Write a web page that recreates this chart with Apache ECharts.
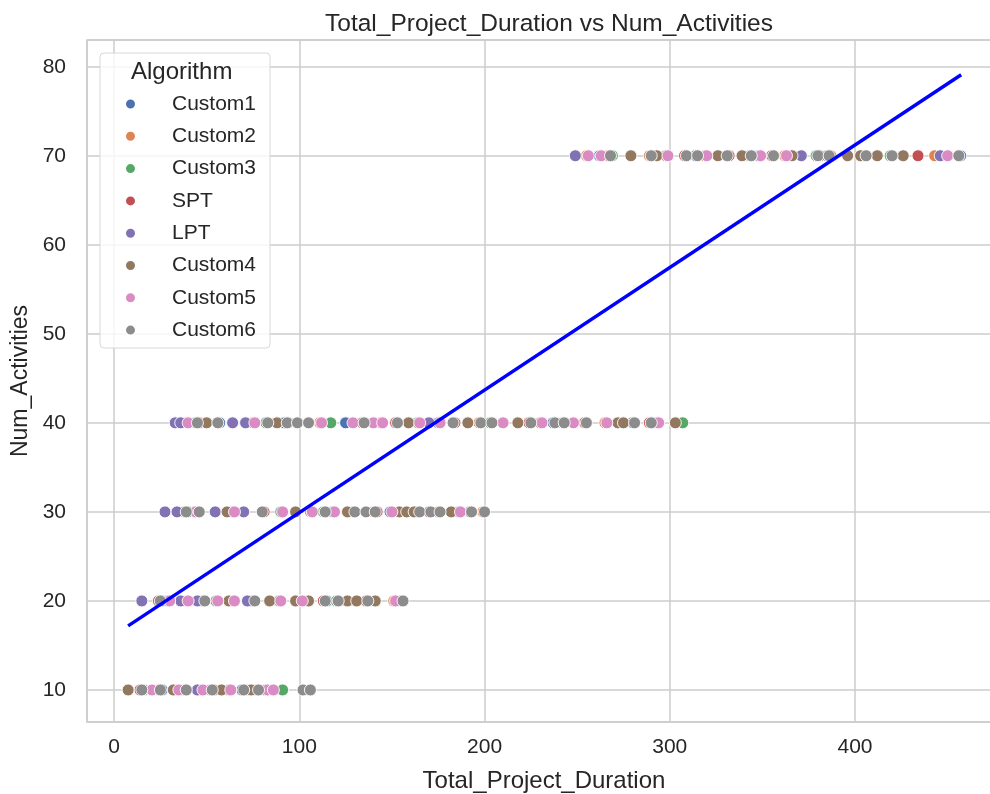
<!DOCTYPE html>
<html>
<head>
<meta charset="utf-8">
<script src="https://cdn.jsdelivr.net/npm/echarts@6/dist/echarts.min.js"></script>
<style>
  html, body { margin: 0; padding: 0; background: #fff; }
  #chart { width: 990px; height: 794px; }
</style>
</head>
<body>
<div id="chart"></div>
<script>
// Total_Project_Duration vs Num_Activities
var dom = document.getElementById("chart");
var myChart = echarts.init(dom);

var algorithms = ['Custom1', 'Custom2', 'Custom3', 'SPT', 'LPT', 'Custom4', 'Custom5', 'Custom6'];
var colors = ['#4C72B0', '#DD8452', '#55A868', '#C44E52', '#8172B3', '#937860', '#DA8BC3', '#8C8C8C'];

// durations per activity level (10, 20, 30, 40, 70), one object per algorithm
var custom1 = {
    10: [26, 47, 69, 82],
    20: [26, 48, 115, 155],
    30: [64, 118, 149, 186],
    40: [57, 92, 125, 175, 237, 280],
    70: [262, 314, 348, 385, 457]
};
var custom2 = {
    10: [24, 34, 77],
    20: [39, 64, 100, 151],
    30: [43, 106, 140, 175, 199],
    40: [39, 75, 111, 144, 197, 230, 265, 293],
    70: [255, 289, 319, 362, 387, 443]
};
var custom3 = {
    10: [16, 52, 62, 91],
    20: [29, 55, 89, 120],
    30: [40, 90, 113, 164, 192],
    40: [44, 82, 117, 164, 203, 242, 307],
    70: [269, 298, 343, 379, 419]
};
var spt = {
    10: [14, 38, 54, 71],
    20: [24, 75, 113, 136],
    30: [38, 81, 129, 142, 170],
    40: [46, 94, 134, 152, 184, 224, 254, 289],
    70: [267, 308, 332, 355, 381, 405, 434]
};
var lpt = {
    10: [45, 52],
    20: [15, 36, 45, 72],
    30: [27.5, 34, 54.6, 70],
    40: [33, 36, 64, 71, 170],
    70: [249, 371, 446]
};
var custom4 = {
    10: [7.6, 32, 58, 74],
    20: [62, 84, 98, 105, 126, 131, 141],
    30: [61, 98, 126, 154, 158, 162, 182],
    40: [50, 88, 159, 191, 218, 272, 275, 303],
    70: [279, 293, 326, 339, 366, 396, 403, 412, 426]
};
var custom5 = {
    10: [20.5, 35, 48, 63, 83, 86],
    20: [30, 40, 56, 65, 90, 101.6, 152],
    30: [44, 65, 91, 107, 119, 150, 187],
    40: [40, 76, 112, 129, 140, 145, 165, 176, 210, 231, 248, 266, 294],
    70: [256, 263, 299, 320, 349, 363, 450]
};
var custom6 = {
    10: [15, 25, 39, 53, 70, 78, 102, 106],
    20: [25, 49, 76, 114, 121, 137, 156],
    30: [39, 46, 80, 114, 130, 136, 141, 165, 171, 176, 193, 200],
    40: [45, 56, 83, 93.5, 99, 105, 135, 153, 183, 198, 204, 225, 238, 243, 255, 281, 290],
    70: [268, 290, 309, 315, 331, 344, 356, 380, 386, 406, 420, 456]
};
var seriesData = [custom1, custom2, custom3, spt, lpt, custom4, custom5, custom6];

// regression line end points
var fitLine = [[7.6, 17.2], [457.3, 79.1]];

function toPoints(obj) {
    var pts = [];
    Object.keys(obj).forEach(function (k) {
        obj[k].forEach(function (x) { pts.push([x, Number(k)]); });
    });
    return pts;
}

var series = algorithms.map(function (name, i) {
    return {
        name: name,
        type: 'scatter',
        data: toPoints(seriesData[i]),
        symbolSize: 12,
        itemStyle: { color: colors[i], borderColor: '#fff', borderWidth: 0.9, opacity: 1 },
        z: 2 + i
    };
});
series.push({
    type: 'line',
    data: fitLine,
    symbol: 'none',
    lineStyle: { color: '#0000ff', width: 3.4 },
    z: 20,
    silent: true
});

var font = 'Liberation Sans, Arial, sans-serif';
var option = {
    animation: false,
    textStyle: { fontFamily: font },
    title: {
        text: 'Total_Project_Duration vs Num_Activities',
        left: 544,
        textAlign: 'center',
        top: 7,
        textStyle: { fontSize: 24.5, fontWeight: 'normal', color: '#262626', fontFamily: font }
    },
    legend: {
        data: algorithms,
        orient: 'vertical',
        left: 100,
        top: 53,
        padding: [40.5, 14, 7.4, 24],
        icon: 'circle',
        itemWidth: 11,
        itemHeight: 11,
        itemGap: 11.3,
        backgroundColor: 'rgba(255,255,255,0.8)',
        borderColor: '#d8d8d8',
        borderWidth: 1,
        borderRadius: 4,
        textStyle: { fontSize: 21, color: '#262626', padding: [0, 0, 0, 31], lineHeight: 21, fontFamily: font }
    },
    graphic: [{
        type: 'text',
        left: 131,
        top: 60,
        z: 100,
        style: { text: 'Algorithm', fontSize: 24, fill: '#262626', fontFamily: font }
    }],
    grid: {
        left: 87,
        right: -11,
        top: 40,
        bottom: 72,
        outerBoundsMode: 'none',
        show: true,
        borderColor: '#cccccc',
        borderWidth: 1.5
    },
    xAxis: {
        type: 'value',
        min: -14.6,
        max: 478.8,
        splitNumber: 5,
        name: 'Total_Project_Duration',
        nameLocation: 'middle',
        nameGap: 47,
        nameTextStyle: { fontSize: 24, color: '#262626', fontFamily: font },
        axisLine: { show: false },
        axisTick: { show: false },
        axisLabel: { fontSize: 21, color: '#262626', margin: 15, showMinLabel: false, showMaxLabel: false, fontFamily: font },
        splitLine: { show: true, lineStyle: { color: '#cccccc', width: 1.5 } }
    },
    yAxis: {
        type: 'value',
        min: 6.4,
        max: 83.0,
        splitNumber: 8,
        name: 'Num_Activities',
        nameLocation: 'middle',
        nameGap: 41,
        nameTextStyle: { fontSize: 23, color: '#262626', fontFamily: font },
        axisLine: { show: false },
        axisTick: { show: false },
        axisLabel: { fontSize: 21, color: '#262626', margin: 21, showMinLabel: false, showMaxLabel: false, fontFamily: font },
        splitLine: { show: true, lineStyle: { color: '#cccccc', width: 1.5 } }
    },
    series: series
};

if (option && typeof option === 'object') {
    myChart.setOption(option);
}
</script>
</body>
</html>
